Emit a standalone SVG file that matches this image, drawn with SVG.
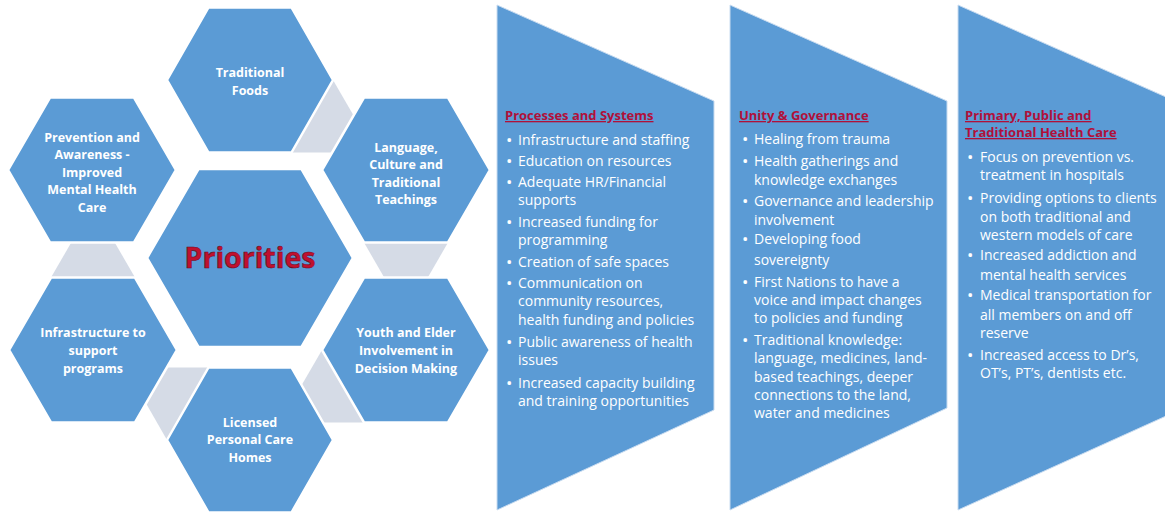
<svg xmlns="http://www.w3.org/2000/svg" width="1165" height="514" viewBox="0 0 1165 514">
<style>
.hex{fill:#5b9bd5;stroke:#ffffff;stroke-width:2.5}
.conn{fill:#d5dbe6;stroke:none}
.panel{fill:#5b9bd5;stroke:#c9dcf0;stroke-width:1}
.hl{font-family:"Open Sans","Liberation Sans",sans-serif;font-weight:bold;font-size:12.5px;fill:#ffffff;text-anchor:middle}
.pri{font-family:"Open Sans","Liberation Sans",sans-serif;font-weight:bold;font-size:28.5px;fill:#c0102e;stroke:#6a0a1e;stroke-width:0.6;text-anchor:middle}
.hd{font-family:"Open Sans","Liberation Sans",sans-serif;font-weight:bold;font-size:13px;fill:#b0103a;text-decoration:underline}
.bt{font-family:"Open Sans","Liberation Sans",sans-serif;font-size:14px;fill:#ffffff}
.bu{font-size:17px}
</style>
<rect width="1165" height="514" fill="#ffffff"/>
<g id="connectors">
<polygon class="conn" points="333,80 375,152.5 291,152.5"/>
<polygon class="conn" points="364,242.5 448,242.5 406,315.2"/>
<polygon class="conn" points="322,350 364,422.5 280,422.5"/>
<polygon class="conn" points="167,440 208.5,367.5 125.5,367.5"/>
<polygon class="conn" points="51,277.5 135,277.5 93,205"/>
</g>
<g id="traditional-foods">
<polygon class="hex" points="167,80 208.5,7.5 291.5,7.5 333,80 291.5,152.5 208.5,152.5"/>
<text class="hl" x="250" y="77">Traditional</text>
<text class="hl" x="250" y="95">Foods</text>
</g>
<g id="prevention">
<polygon class="hex" points="8,170 50,97.5 134,97.5 176,170 134,242.5 50,242.5"/>
<text class="hl" x="92" y="141.5">Prevention and</text>
<text class="hl" x="92" y="158.5">Awareness -</text>
<text class="hl" x="92" y="176.5">Improved</text>
<text class="hl" x="92" y="193.5">Mental Health</text>
<text class="hl" x="92" y="211.5">Care</text>
</g>
<g id="language">
<polygon class="hex" points="322,170 364,97.5 448,97.5 490,170 448,242.5 364,242.5"/>
<text class="hl" x="406" y="151.5">Language,</text>
<text class="hl" x="406" y="168.5">Culture and</text>
<text class="hl" x="406" y="186.5">Traditional</text>
<text class="hl" x="406" y="203.5">Teachings</text>
</g>
<g id="priorities">
<polygon class="hex" points="147,258 198.5,169 301.5,169 353,258 301.5,347 198.5,347"/>
<text class="pri" x="250" y="268">Priorities</text>
</g>
<g id="infrastructure">
<polygon class="hex" points="9,350 51,277.5 135,277.5 177,350 135,422.5 51,422.5"/>
<text class="hl" x="93" y="336.5">Infrastructure to</text>
<text class="hl" x="93" y="354.5">support</text>
<text class="hl" x="93" y="372.5">programs</text>
</g>
<g id="youth-elder">
<polygon class="hex" points="322,350 364,277.5 448,277.5 490,350 448,422.5 364,422.5"/>
<text class="hl" x="406" y="336.5">Youth and Elder</text>
<text class="hl" x="406" y="354.5">Involvement in</text>
<text class="hl" x="406" y="372.5">Decision Making</text>
</g>
<g id="licensed">
<polygon class="hex" points="167,440 208.5,367.5 291.5,367.5 333,440 291.5,512.5 208.5,512.5"/>
<text class="hl" x="250" y="426.5">Licensed</text>
<text class="hl" x="250" y="443.5">Personal Care</text>
<text class="hl" x="250" y="461.5">Homes</text>
</g>
<g id="processes-systems">
<polygon class="panel" points="497,5 714,101 714,410 497,510"/>
<text class="hd" x="505" y="120">Processes and Systems</text>
<g class="bt">
<text class="bu" x="506" y="146">•</text><text x="518" y="145">Infrastructure and staffing</text>
<text class="bu" x="506" y="167">•</text><text x="518" y="166">Education on resources</text>
<text class="bu" x="506" y="188">•</text><text x="518" y="187">Adequate HR/Financial</text>
<text x="518" y="205">supports</text>
<text class="bu" x="506" y="228">•</text><text x="518" y="227">Increased funding for</text>
<text x="518" y="245">programming</text>
<text class="bu" x="506" y="268">•</text><text x="518" y="267">Creation of safe spaces</text>
<text class="bu" x="506" y="289">•</text><text x="518" y="288">Communication on</text>
<text x="518" y="306">community resources,</text>
<text x="518" y="325">health funding and policies</text>
<text class="bu" x="506" y="348">•</text><text x="518" y="347">Public awareness of health</text>
<text x="518" y="365">issues</text>
<text class="bu" x="506" y="389">•</text><text x="518" y="388">Increased capacity building</text>
<text x="518" y="406">and training opportunities</text>
</g>
</g>
<g id="unity-governance">
<polygon class="panel" points="730,5 947,101 947,408 730,510"/>
<text class="hd" x="739" y="120">Unity &amp; Governance</text>
<g class="bt">
<text class="bu" x="742" y="145">•</text><text x="754" y="144">Healing from trauma</text>
<text class="bu" x="742" y="167">•</text><text x="754" y="166">Health gatherings and</text>
<text x="754" y="185">knowledge exchanges</text>
<text class="bu" x="742" y="207">•</text><text x="754" y="206">Governance and leadership</text>
<text x="754" y="225">involvement</text>
<text class="bu" x="742" y="245">•</text><text x="754" y="244">Developing food</text>
<text x="754" y="265">sovereignty</text>
<text class="bu" x="742" y="288">•</text><text x="754" y="287">First Nations to have a</text>
<text x="754" y="305">voice and impact changes</text>
<text x="754" y="323">to policies and funding</text>
<text class="bu" x="742" y="346">•</text><text x="754" y="345">Traditional knowledge:</text>
<text x="754" y="363">language, medicines, land-</text>
<text x="754" y="382">based teachings, deeper</text>
<text x="754" y="400">connections to the land,</text>
<text x="754" y="418">water and medicines</text>
</g>
</g>
<g id="primary-care">
<polygon class="panel" points="958,5 1175,101 1175,412 958,510"/>
<text class="hd" x="965" y="120">Primary, Public and</text>
<text class="hd" x="965" y="137">Traditional Health Care</text>
<g class="bt">
<text class="bu" x="967" y="163">•</text><text x="980" y="162">Focus on prevention vs.</text>
<text x="980" y="180">treatment in hospitals</text>
<text class="bu" x="967" y="204">•</text><text x="980" y="203">Providing options to clients</text>
<text x="980" y="222">on both traditional and</text>
<text x="980" y="240">western models of care</text>
<text class="bu" x="967" y="261">•</text><text x="980" y="260">Increased addiction and</text>
<text x="980" y="280">mental health services</text>
<text class="bu" x="967" y="301">•</text><text x="980" y="300">Medical transportation for</text>
<text x="980" y="320">all members on and off</text>
<text x="980" y="338">reserve</text>
<text class="bu" x="967" y="361">•</text><text x="980" y="360">Increased access to Dr’s,</text>
<text x="980" y="378">OT’s, PT’s, dentists etc.</text>
</g>
</g>
</svg>
